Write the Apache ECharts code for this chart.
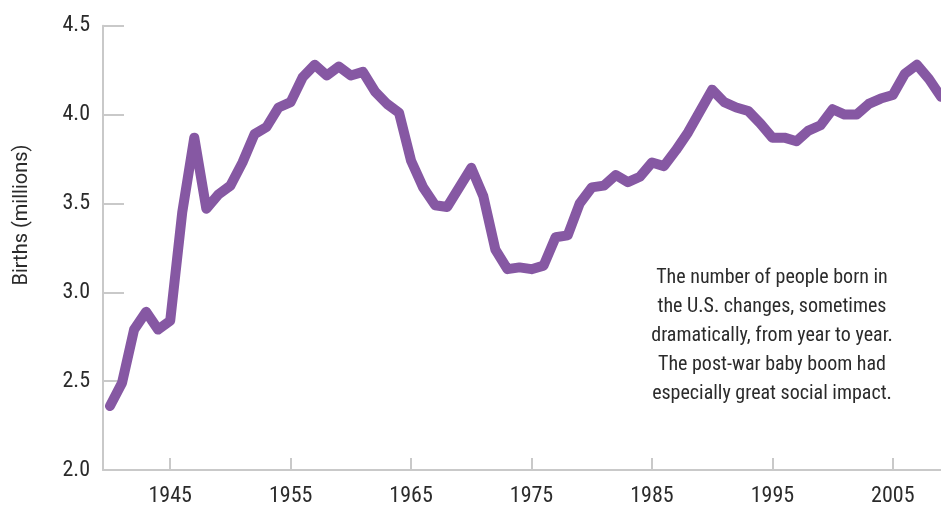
<!DOCTYPE html>
<html>
<head>
<meta charset="utf-8">
<script src="https://cdn.jsdelivr.net/npm/echarts@6/dist/echarts.min.js"></script>
<style>
html,body{margin:0;padding:0;background:#fff;}
#chart{width:941px;height:510px;}
</style>
</head>
<body>
<div id="chart"></div>
<script>
const years = [1940,1941,1942,1943,1944,1945,1946,1947,1948,1949,
  1950,1951,1952,1953,1954,1955,1956,1957,1958,1959,
  1960,1961,1962,1963,1964,1965,1966,1967,1968,1969,
  1970,1971,1972,1973,1974,1975,1976,1977,1978,1979,
  1980,1981,1982,1983,1984,1985,1986,1987,1988,1989,
  1990,1991,1992,1993,1994,1995,1996,1997,1998,1999,
  2000,2001,2002,2003,2004,2005,2006,2007,2008,2009];
const births = [2.36,2.49,2.79,2.89,2.79,2.84,3.45,3.87,3.47,3.55,
  3.60,3.73,3.89,3.93,4.04,4.07,4.21,4.28,4.22,4.27,
  4.22,4.24,4.13,4.06,4.01,3.74,3.59,3.49,3.48,3.59,
  3.70,3.54,3.24,3.13,3.14,3.13,3.15,3.31,3.32,3.50,
  3.59,3.60,3.66,3.62,3.65,3.73,3.71,3.80,3.90,4.02,
  4.14,4.07,4.04,4.02,3.95,3.87,3.87,3.85,3.91,3.94,
  4.03,4.00,4.00,4.06,4.09,4.11,4.23,4.28,4.20,4.10];
const xTickYears = [1945,1955,1965,1975,1985,1995,2005];
const yTicks = [2.0,2.5,3.0,3.5,4.0,4.5];
const yAxisTitle = 'Births (millions)';
const noteLines = ['The number of people born in','the U.S. changes, sometimes','dramatically, from year to year.','The post-war baby boom had','especially great social impact.'];

const chart = echarts.init(document.getElementById('chart'), null, {renderer:'canvas'});
const axisGray = '#c9c9c9';
const textCol = '#2b2b2b';
const condFont = "'Roboto Condensed', Roboto, sans-serif";
chart.setOption({
  animation:false,
  backgroundColor:'#ffffff',
  grid:{left:103, right:0, top:25.7, bottom:40, containLabel:false},
  xAxis:{
    type:'value', min:1939.42, max:2009,
    axisLine:{show:true, lineStyle:{color:axisGray, width:2}},
    axisTick:{show:true, inside:true, length:12, lineStyle:{color:axisGray, width:2}, customValues:xTickYears},
    axisLabel:{show:true, customValues:xTickYears, margin:15, fontFamily:condFont, fontSize:22, color:textCol, lineHeight:22,
      formatter:function(v){return String(v);}},
    splitLine:{show:false}
  },
  yAxis:{
    type:'value', min:yTicks[0], max:yTicks[yTicks.length-1], interval:0.5,
    axisLine:{show:true, lineStyle:{color:axisGray, width:2}},
    axisTick:{show:true, inside:true, length:21, lineStyle:{color:axisGray, width:2}},
    axisLabel:{show:true, margin:13, fontFamily:condFont, fontSize:22, color:textCol, verticalAlign:'middle', padding:[0,0,13,0],
      formatter:function(v){return v.toFixed(1);}},
    splitLine:{show:false}
  },
  graphic:[
    {type:'text', x:22, y:215, rotation:Math.PI/2,
      style:{text:yAxisTitle, fontFamily:'Roboto', fontSize:20, fill:textCol, align:'center', verticalAlign:'middle'}},
    {type:'text', x:772, y:263,
      style:{text:noteLines.join('\n'), fontFamily:condFont, fontSize:20, lineHeight:29, fill:textCol, align:'center', verticalAlign:'top'}}
  ],
  series:[{
    type:'line',
    data:years.map((y,i)=>[y,births[i]]),
    showSymbol:false,
    clip:false,
    lineStyle:{color:'#8658a3', width:10, cap:'round', join:'round'}
  }]
});
</script>
</body>
</html>
